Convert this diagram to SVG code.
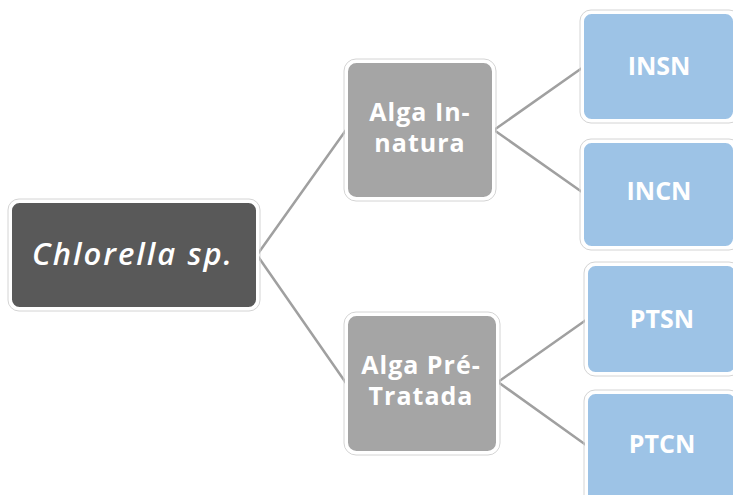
<svg xmlns="http://www.w3.org/2000/svg" width="733" height="495" viewBox="0 0 733 495">
<style>
.halo{fill:none;stroke:#d4d4d4;stroke-width:1}
.box{stroke:#ffffff;stroke-width:3}
.root{fill:#595959}
.mid{fill:#a5a5a5}
.leaf{fill:#9dc3e6}
.t{font-family:"Open Sans","DejaVu Sans",sans-serif;fill:#ffffff;text-anchor:middle}
.tb{font-weight:700;font-size:25px}
.conn{stroke:#a0a0a0;stroke-width:2.5;fill:none}
</style>
<rect width="733" height="495" fill="#ffffff"/>
<g id="connectors">
<path class="conn" d="M257,255 L346,130 M257,255 L346,383"/>
<path class="conn" d="M494,130 L582,68 M494,130 L582,192"/>
<path class="conn" d="M498,382 L586,320 M498,382 L586,445"/>
</g>
<g id="root">
<rect class="halo" x="8" y="199" width="252" height="112" rx="11"/>
<rect class="box root" x="10.5" y="201.5" width="247" height="107" rx="9"/>
<text class="t" x="133" y="265" font-size="31" font-style="italic" font-weight="600" letter-spacing="2">Chlorella sp.</text>
</g>
<g id="alga-in-natura">
<rect class="halo" x="344" y="59" width="152" height="142" rx="12"/>
<rect class="box mid" x="346.5" y="61.5" width="147" height="137" rx="10"/>
<text class="t tb" x="420" y="121" letter-spacing="1">Alga In-</text>
<text class="t tb" x="420" y="152" letter-spacing="1">natura</text>
</g>
<g id="alga-pre-tratada">
<rect class="halo" x="344" y="312" width="156" height="143" rx="12"/>
<rect class="box mid" x="346.5" y="314.5" width="151" height="138" rx="10"/>
<text class="t tb" x="421" y="374" letter-spacing="1">Alga Pré-</text>
<text class="t tb" x="421" y="405" letter-spacing="1">Tratada</text>
</g>
<g id="insn">
<rect class="halo" x="580" y="10" width="160" height="113" rx="11"/>
<rect class="box leaf" x="582.5" y="12.5" width="152" height="108" rx="9"/>
<text class="t tb" x="659" y="75" font-size="26">INSN</text>
</g>
<g id="incn">
<rect class="halo" x="580" y="139" width="160" height="111" rx="11"/>
<rect class="box leaf" x="582.5" y="141.5" width="152" height="106" rx="9"/>
<text class="t tb" x="659" y="200" font-size="26">INCN</text>
</g>
<g id="ptsn">
<rect class="halo" x="584" y="262" width="156" height="114" rx="11"/>
<rect class="box leaf" x="586.5" y="264.5" width="150" height="109" rx="9"/>
<text class="t tb" x="662" y="328" font-size="26">PTSN</text>
</g>
<g id="ptcn">
<rect class="halo" x="584" y="390" width="156" height="120" rx="11"/>
<rect class="box leaf" x="586.5" y="392.5" width="150" height="115" rx="9"/>
<text class="t tb" x="662" y="453" font-size="26">PTCN</text>
</g>
</svg>
